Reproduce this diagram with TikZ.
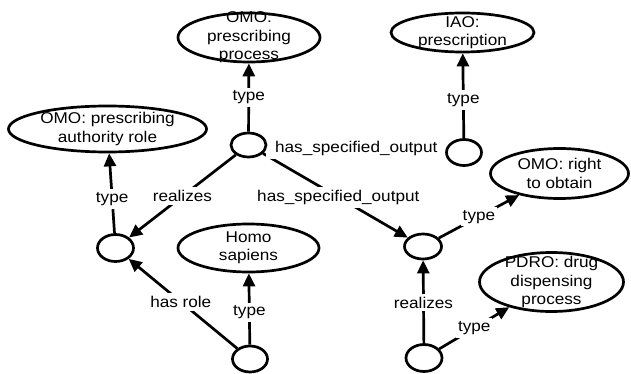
\documentclass[tikz,border=0pt]{standalone}
\usepackage{fontspec}
\setmainfont{Liberation Sans}[FakeStretch=1.1]
\usetikzlibrary{shapes.geometric,arrows.meta,backgrounds}

\begin{document}
\begin{tikzpicture}[x=1pt,y=-1pt,
  every node/.style={font=\fontsize{15.6}{18.5}\selectfont},
  cls/.style 2 args={ellipse, draw, line width=2.7pt, inner sep=0pt,
    minimum width=#1pt, minimum height=#2pt},
  inst/.style={ellipse, draw, fill=white, line width=2.7pt, inner sep=0pt,
    minimum width=35pt, minimum height=25pt},
  rel/.style={line width=2.7pt, -{Triangle[length=13pt,width=12pt]}},
  lbl/.style={fill=white, inner xsep=2pt, inner ysep=3pt}]

\useasboundingbox (0,0) rectangle (631,374);

% class nodes
\node[cls={142}{49}, label={[align=center]center:OMO:\\prescribing\\process}] (pp) at (249,37.5) {};
\node[cls={143}{39}, label={[align=center]center:IAO:\\prescription}] (iao) at (462.5,32.5) {};
\node[cls={198}{46}, label={[align=center]center:OMO: prescribing\\authority role}] (auth) at (107.5,129) {};
\node[cls={138}{50}, label={[align=center]center:OMO: right\\to obtain}] (rto) at (559.5,173.5) {};
\node[cls={141}{48}, label={[align=center]center:Homo\\sapiens}] (homo) at (248.5,248) {};
\node[cls={144}{59}, label={[align=center]center:PDRO: drug\\dispensing\\process}] (pdro) at (551.5,282) {};

% instance nodes
\node[inst, minimum height=24pt] (c1) at (248.5,145) {};
\node[inst, minimum height=26pt] (c2) at (464,152.5) {};
\node[inst, minimum width=36pt, minimum height=27pt] (c3) at (115.5,248) {};
\node[inst, minimum height=26pt] (c4) at (250,359) {};
\node[inst, minimum width=37pt] (c5) at (423,246.5) {};
\node[inst, minimum width=36pt, minimum height=27pt] (c6) at (424,358) {};

% relations
\begin{pgfonlayer}{background}
\draw[rel] (c1) -- node[lbl]{type} (pp);
\draw[rel] (c1) -- node[lbl]{realizes} (c3);
\draw[rel] (c1) -- node[lbl, pos=0.52]{has\_specified\_output} (c5);
\draw[rel] (c1) -- node[lbl, inner xsep=9pt]{has\_specified\_output} (c2);
\draw[rel] (c2) -- node[lbl, pos=0.45]{type} (iao);
\draw[rel] (c3) -- node[lbl, pos=0.43]{type} (auth);
\draw[rel] (c4) -- node[lbl, pos=0.52]{has role} (c3);
\draw[rel] (c4) -- node[lbl, pos=0.45]{type} (homo);
\draw[rel] (c5) -- node[lbl]{type} (rto);
\draw[rel] (c6) -- node[lbl, pos=0.49]{realizes} (c5);
\draw[rel] (c6) -- node[lbl]{type} (pdro);
\end{pgfonlayer}
\end{tikzpicture}
\end{document}
